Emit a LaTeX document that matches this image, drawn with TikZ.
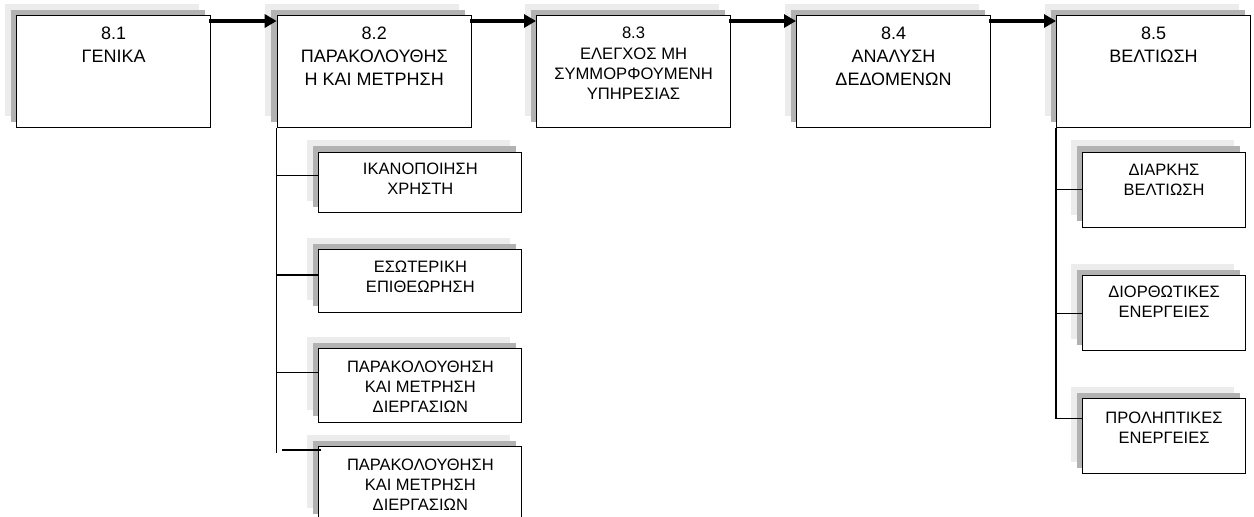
\documentclass[tikz,border=0pt]{standalone}
\usepackage{fontspec}
\setmainfont{Liberation Sans}
\usetikzlibrary{shadows,arrows.meta,calc}

\definecolor{shadowdark}{RGB}{178,178,178}
\definecolor{shadowlight}{RGB}{236,236,236}

\tikzset{
  box/.style={draw=black, line width=1.1pt, fill=white, inner sep=0pt, anchor=north west,
    general shadow={fill=shadowlight, shadow xshift=-12pt, shadow yshift=12pt},
    general shadow={fill=shadowdark, shadow xshift=-6pt, shadow yshift=6pt}},
  topbox/.style={box, minimum width=194pt, minimum height=112pt},
  leftsub/.style={box, minimum width=203pt},
  rightsub/.style={box, minimum width=163pt, minimum height=75pt},
  toptext/.style={anchor=north, align=center, inner sep=0pt, font=\fontsize{18}{23}\selectfont},
  tighttext/.style={anchor=north, align=center, inner sep=0pt, font=\fontsize{16.6}{20.3}\selectfont},
  subtext/.style={anchor=north, align=center, inner sep=0pt, font=\fontsize{16.5}{20}\selectfont},
  flow/.style={line width=4pt, -{Triangle[length=12pt,width=13pt]}},
  tree/.style={line width=1.1pt},
}

\begin{document}
\begin{tikzpicture}[x=1pt, y=-1pt]
\useasboundingbox (0,0) rectangle (1254,517);
\clip (0,0) rectangle (1254,517);

% main chapter boxes
\node[topbox] (b81) at (16,15) {};
\node[topbox] (b82) at (276.7,15) {};
\node[topbox] (b83) at (536,15) {};
\node[topbox] (b84) at (796,15) {};
\node[topbox] (b85) at (1056,15) {};

\node[toptext] (t81) at ($(b81.north)+(0,12)$) {8.1\\ΓΕΝΙΚΑ};
\node[toptext] (t82) at ($(b82.north)+(0,12)$) {8.2\\ΠΑΡΑΚΟΛΟΥΘΗΣ\\Η ΚΑΙ ΜΕΤΡΗΣΗ};
\node[tighttext] (t83) at ($(b83.north)+(0,12)$) {8.3\\ΕΛΕΓΧΟΣ ΜΗ\\ΣΥΜΜΟΡΦΟΥΜΕΝΗ\\ΥΠΗΡΕΣΙΑΣ};
\node[toptext] (t84) at ($(b84.north)+(0,12)$) {8.4\\ΑΝΑΛΥΣΗ\\ΔΕΔΟΜΕΝΩΝ};
\node[toptext] (t85) at ($(b85.north)+(0,12)$) {8.5\\ΒΕΛΤΙΩΣΗ};

% flow between chapters
\draw[flow] ($(b81.north east)+(-2,6)$) -- ($(b82.north west)+(0,6)$);
\draw[flow] ($(b82.north east)+(-2,6)$) -- ($(b83.north west)+(0,6)$);
\draw[flow] ($(b83.north east)+(-2,6)$) -- ($(b84.north west)+(0,6)$);
\draw[flow] ($(b84.north east)+(-2,6)$) -- ($(b85.north west)+(0,6)$);

% sub-sections of 8.2
\node[leftsub, minimum height=60.6pt] (s1) at (318.3,151.7) {};
\node[leftsub, minimum height=62.7pt] (s2) at (318.3,249) {};
\node[leftsub, minimum height=73.4pt] (s3) at (318.3,348.3) {};
\node[leftsub, minimum height=73.4pt] (s4) at (318.3,446) {};

\node[subtext] (u1) at ($(s1.north)+(0,11)$) {ΙΚΑΝΟΠΟΙΗΣΗ\\ΧΡΗΣΤΗ};
\node[subtext] (u2) at ($(s2.north)+(0,11.5)$) {ΕΣΩΤΕΡΙΚΗ\\ΕΠΙΘΕΩΡΗΣΗ};
\node[subtext] (u3) at ($(s3.north)+(0,12)$) {ΠΑΡΑΚΟΛΟΥΘΗΣΗ\\ΚΑΙ ΜΕΤΡΗΣΗ\\ΔΙΕΡΓΑΣΙΩΝ};
\node[subtext] (u4) at ($(s4.north)+(0,12.5)$) {ΠΑΡΑΚΟΛΟΥΘΗΣΗ\\ΚΑΙ ΜΕΤΡΗΣΗ\\ΔΙΕΡΓΑΣΙΩΝ};

\coordinate (ltrunk) at (276.7,453);
\coordinate (s1b) at ($(s1.north west)+(0,24)$);
\coordinate (s2b) at ($(s2.north west)+(0,26)$);
\coordinate (s3b) at ($(s3.north west)+(0,24.4)$);
\coordinate (s4a) at (282,450);
\draw[tree] (b82.south west) -- (ltrunk);
\draw[tree] (b82.south west |- s1b) -- (s1b);
\draw[tree] (b82.south west |- s2b) -- (s2b);
\draw[tree] (b82.south west |- s3b) -- (s3b);
\draw[tree] (s4a) -- ($(s4.north west)+(3,4)$);

% sub-sections of 8.5
\node[rightsub] (r1) at (1082,151.7) {};
\node[rightsub] (r2) at (1082,275) {};
\node[rightsub] (r3) at (1082,398.3) {};

\node[subtext] (v1) at ($(r1.north)+(0,12)$) {ΔΙΑΡΚΗΣ\\ΒΕΛΤΙΩΣΗ};
\node[subtext] (v2) at ($(r2.north)+(0,11)$) {ΔΙΟΡΘΩΤΙΚΕΣ\\ΕΝΕΡΓΕΙΕΣ};
\node[subtext] (v3) at ($(r3.north)+(0,13)$) {ΠΡΟΛΗΠΤΙΚΕΣ\\ΕΝΕΡΓΕΙΕΣ};

\coordinate (r3b) at ($(r3.north west)+(0,20)$);
\draw[tree] (b85.south west) |- (r3b);
\draw[tree] (b85.south west |- r1.west) -- (r1.west);
\draw[tree] (b85.south west |- r2.west) -- (r2.west);
\end{tikzpicture}
\end{document}
